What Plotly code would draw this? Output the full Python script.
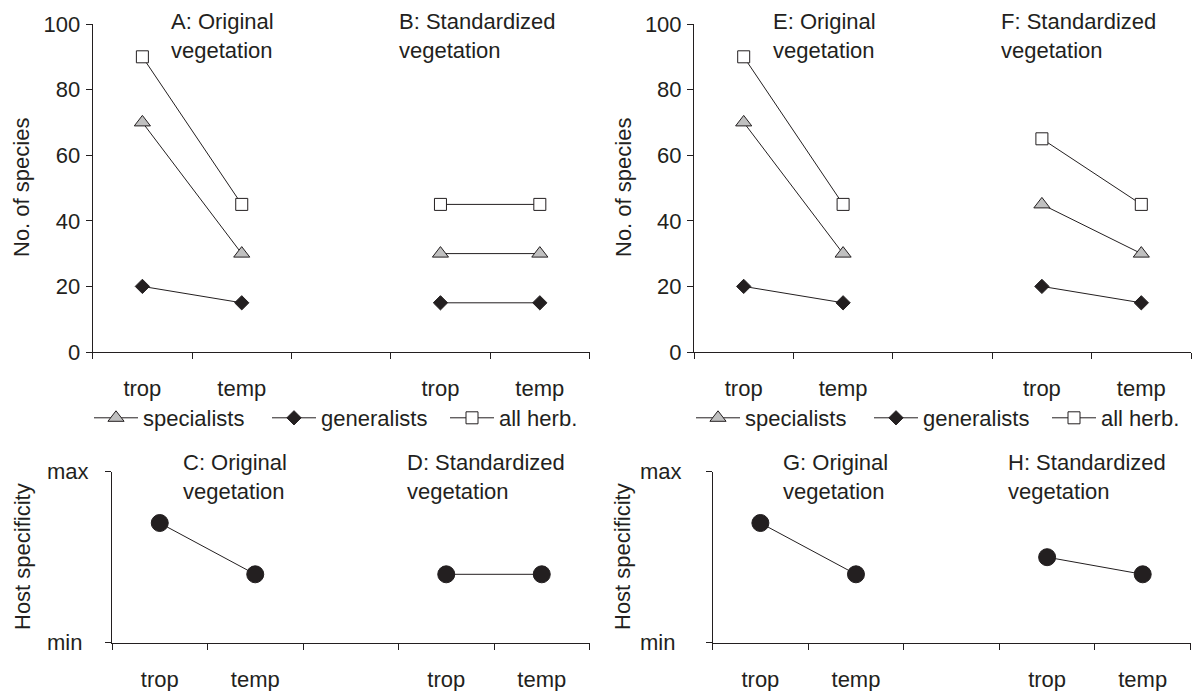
import plotly.graph_objects as go

W, H = 1192, 691
INK = "#231f20"
FONT = "Arial, Liberation Sans, sans-serif"

# ---------------- data ----------------
categories = ["trop", "temp", "", "trop", "temp"]
cat_pos = [0, 1, 2, 3, 4]
series_names = ["specialists", "generalists", "all herb."]

# top panels: A/E original vegetation, B / F standardized vegetation
spec_orig = [70, 30]
gen_orig = [20, 15]
all_orig = [90, 45]
spec_std_B = [30, 30]
gen_std_B = [15, 15]
all_std_B = [45, 45]
spec_std_F = [45, 30]
gen_std_F = [20, 15]
all_std_F = [65, 45]

# bottom panels: host specificity (0 = min, 1 = max)
host_orig = [0.7, 0.4]
host_std_D = [0.4, 0.4]
host_std_H = [0.5, 0.4]

species_ticks = [0, 20, 40, 60, 80, 100]
host_ticks = [0, 1]
host_tick_labels = ["min", "max"]

panel_titles = {
    "A": "A: Original<br>vegetation", "B": "B: Standardized<br>vegetation",
    "C": "C: Original<br>vegetation", "D": "D: Standardized<br>vegetation",
    "E": "E: Original<br>vegetation", "F": "F: Standardized<br>vegetation",
    "G": "G: Original<br>vegetation", "H": "H: Standardized<br>vegetation",
}

orig_idx = [0, 1]
std_idx = [3, 4]


def px(x):
    return x / W


def py(y):
    return 1 - y / H


fig = go.Figure()

styles = {
    "specialists": dict(symbol="triangle-up", size=14, color="#c0c0c0"),
    "generalists": dict(symbol="diamond", size=11, color=INK),
    "all herb.": dict(symbol="square", size=12, color="white"),
}


def add_top(xref, yref, legend, std_vals):
    data = {
        "specialists": (spec_orig, std_vals[0]),
        "generalists": (gen_orig, std_vals[1]),
        "all herb.": (all_orig, std_vals[2]),
    }
    for name in series_names:
        o, s = data[name]
        st = styles[name]
        fig.add_trace(go.Scatter(
            x=[cat_pos[i] for i in orig_idx] + [None] + [cat_pos[i] for i in std_idx],
            y=list(o) + [None] + list(s),
            mode="lines+markers", name=name, legend=legend,
            xaxis=xref, yaxis=yref, connectgaps=False,
            line=dict(color=INK, width=1),
            marker=dict(symbol=st["symbol"], size=st["size"], color=st["color"],
                        line=dict(color=INK, width=1)),
            hoverinfo="skip",
        ))


def add_bottom(xref, yref, std_vals):
    fig.add_trace(go.Scatter(
        x=[cat_pos[i] for i in orig_idx] + [None] + [cat_pos[i] for i in std_idx],
        y=list(host_orig) + [None] + list(std_vals),
        mode="lines+markers", showlegend=False,
        xaxis=xref, yaxis=yref, connectgaps=False,
        line=dict(color=INK, width=1),
        marker=dict(symbol="circle", size=17, color=INK, line=dict(color=INK, width=1)),
        hoverinfo="skip",
    ))


add_top("x", "y", "legend", (spec_std_B, gen_std_B, all_std_B))
add_top("x2", "y2", "legend2", (spec_std_F, gen_std_F, all_std_F))
add_bottom("x3", "y3", host_std_D)
add_bottom("x4", "y4", host_std_H)

boundaries = [p - 0.5 for p in cat_pos] + [cat_pos[-1] + 0.5]
label_pos = [p for p, c in zip(cat_pos, categories) if c]
label_txt = [c for c in categories if c]


def xaxis_cfg(domain, anchor):
    return dict(
        domain=domain, anchor=anchor, range=[-0.5, 4.5],
        showline=True, linecolor=INK, linewidth=1, showgrid=False, zeroline=False,
        tickmode="array", tickvals=label_pos, ticktext=label_txt,
        ticks="", ticklabelstandoff=17,
        tickfont=dict(size=22, color=INK, family=FONT),
        minor=dict(tickmode="array", tickvals=boundaries, ticks="outside",
                   ticklen=6, tickcolor=INK, tickwidth=1, showgrid=False),
        automargin=False, fixedrange=True,
    )


def yaxis_cfg(domain, anchor, rng, tickvals, showlabels=True):
    return dict(
        domain=domain, anchor=anchor, range=rng,
        showline=True, linecolor=INK, linewidth=1, showgrid=False, zeroline=False,
        tickmode="array", tickvals=tickvals, ticks="outside", ticklen=6,
        tickcolor=INK, tickwidth=1, showticklabels=showlabels, ticklabelstandoff=1,
        tickfont=dict(size=22, color=INK, family=FONT),
        automargin=False, fixedrange=True,
    )


top_y = [py(352), py(24)]
bot_y = [py(642.7), py(471.7)]
tl_x = [px(92.7), px(589.5)]
tr_x = [px(694), px(1191)]
bl_x = [px(112), px(589.5)]
br_x = [px(712.6), px(1190.5)]

legend_common = dict(
    orientation="h", xanchor="left", yanchor="middle",
    font=dict(size=22, color=INK, family=FONT), itemwidth=44,
    entrywidth=119, entrywidthmode="pixels", traceorder="normal",
    bgcolor="rgba(0,0,0,0)", itemclick=False, itemdoubleclick=False,
)

fig.update_layout(
    width=W, height=H,
    margin=dict(l=0, r=0, t=0, b=0, pad=0, autoexpand=False),
    paper_bgcolor="white", plot_bgcolor="rgba(0,0,0,0)",
    font=dict(family=FONT, size=22, color=INK),
    xaxis=xaxis_cfg(tl_x, "y"), yaxis=yaxis_cfg(top_y, "x", [0, 100], species_ticks),
    xaxis2=xaxis_cfg(tr_x, "y2"), yaxis2=yaxis_cfg(top_y, "x2", [0, 100], species_ticks),
    xaxis3=xaxis_cfg(bl_x, "y3"), yaxis3=yaxis_cfg(bot_y, "x3", [0, 1], host_ticks, False),
    xaxis4=xaxis_cfg(br_x, "y4"), yaxis4=yaxis_cfg(bot_y, "x4", [0, 1], host_ticks, False),
    legend=dict(x=px(89), y=py(418), **legend_common),
    legend2=dict(x=px(691), y=py(418), **legend_common),
    showlegend=True,
)

ann = []
# panel titles
title_pos = {
    "A": (169, 36.5), "B": (397, 36.5), "E": (771, 36.5), "F": (999, 36.5),
    "C": (181, 477), "D": (405, 477), "G": (781, 477), "H": (1006, 477),
}
for k, (x, y) in title_pos.items():
    ann.append(dict(text=panel_titles[k], x=px(x), y=py(y), xref="paper", yref="paper",
                    xanchor="left", yanchor="middle", align="left", showarrow=False,
                    font=dict(size=22, color=INK, family=FONT)))
# y titles
for x, y, t in [(21, 188, "No. of species"), (623, 188, "No. of species"),
                (22, 557, "Host specificity"), (622, 557, "Host specificity")]:
    ann.append(dict(text=t, x=px(x), y=py(y), xref="paper", yref="paper",
                    xanchor="center", yanchor="middle", textangle=-90, showarrow=False,
                    font=dict(size=22, color=INK, family=FONT)))
# min / max labels (left aligned)
for axis_left, yref in [(45, "y3"), (638, "y4")]:
    for v, t in zip(host_ticks, host_tick_labels):
        ann.append(dict(text=t, x=px(axis_left), y=v, xref="paper", yref=yref,
                        xanchor="left", yanchor="middle", showarrow=False,
                        font=dict(size=22, color=INK, family=FONT)))
fig.update_layout(annotations=ann)

fig.write_html("out.html", config={"responsive": False, "displayModeBar": False},
               default_width="1192px", default_height="691px",
               post_script="document.body.style.margin='0';document.body.style.overflow='hidden';")
